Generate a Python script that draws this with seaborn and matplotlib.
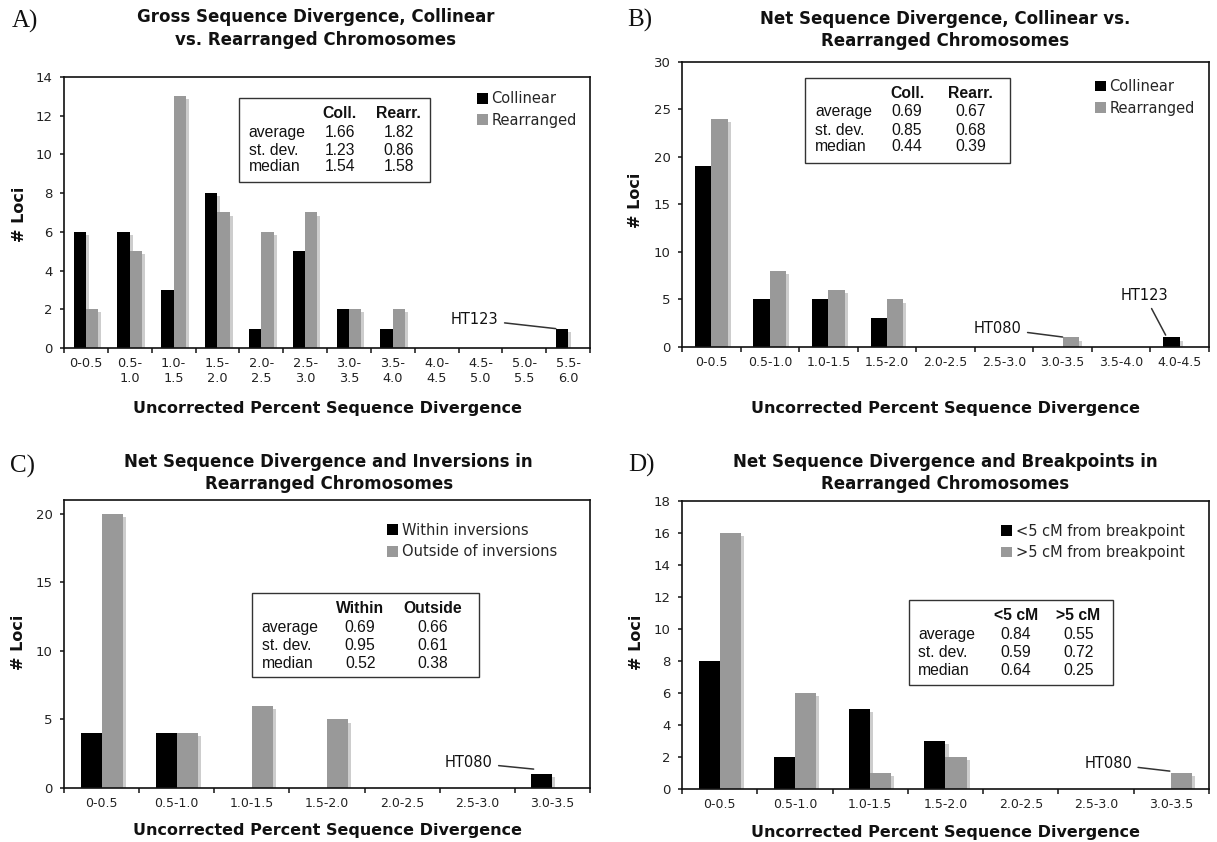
import numpy as np
import pandas as pd
import matplotlib
matplotlib.use("Agg")
import matplotlib.pyplot as plt
import seaborn as sns
from matplotlib import patheffects as pe
from matplotlib.patches import Rectangle, Patch

# ---------------- data ----------------
A_cats = ["0-0.5", "0.5-1.0", "1.0-1.5", "1.5-2.0", "2.0-2.5", "2.5-3.0",
          "3.0-3.5", "3.5-4.0", "4.0-4.5", "4.5-5.0", "5.0-5.5", "5.5-6.0"]
A_ticklabels = ["0-0.5", "0.5-\n1.0", "1.0-\n1.5", "1.5-\n2.0", "2.0-\n2.5", "2.5-\n3.0",
                "3.0-\n3.5", "3.5-\n4.0", "4.0-\n4.5", "4.5-\n5.0", "5.0-\n5.5", "5.5-\n6.0"]
A_series = ["Collinear", "Rearranged"]
A_collinear = [6, 6, 3, 8, 1, 5, 2, 1, 0, 0, 0, 1]
A_rearranged = [2, 5, 13, 7, 6, 7, 2, 2, 0, 0, 0, 0]
A_stat_cols = ["Coll.", "Rearr."]
A_stats = [[1.66, 1.82], [1.23, 0.86], [1.54, 1.58]]

B_cats = ["0-0.5", "0.5-1.0", "1.0-1.5", "1.5-2.0", "2.0-2.5", "2.5-3.0",
          "3.0-3.5", "3.5-4.0", "4.0-4.5"]
B_series = ["Collinear", "Rearranged"]
B_collinear = [19, 5, 5, 3, 0, 0, 0, 0, 1]
B_rearranged = [24, 8, 6, 5, 0, 0, 1, 0, 0]
B_stat_cols = ["Coll.", "Rearr."]
B_stats = [[0.69, 0.67], [0.85, 0.68], [0.44, 0.39]]

C_cats = ["0-0.5", "0.5-1.0", "1.0-1.5", "1.5-2.0", "2.0-2.5", "2.5-3.0", "3.0-3.5"]
C_series = ["Within inversions", "Outside of inversions"]
C_within = [4, 4, 0, 0, 0, 0, 1]
C_outside = [20, 4, 6, 5, 0, 0, 0]
C_stat_cols = ["Within", "Outside"]
C_stats = [[0.69, 0.66], [0.95, 0.61], [0.52, 0.38]]

D_cats = ["0-0.5", "0.5-1.0", "1.0-1.5", "1.5-2.0", "2.0-2.5", "2.5-3.0", "3.0-3.5"]
D_series = ["<5 cM from breakpoint", ">5 cM from breakpoint"]
D_near = [8, 2, 5, 3, 0, 0, 0]
D_far = [16, 6, 1, 2, 0, 0, 1]
D_stat_cols = ["<5 cM", ">5 cM"]
D_stats = [[0.84, 0.55], [0.59, 0.72], [0.64, 0.25]]

stat_rows = ["average", "st. dev.", "median"]

titles = ["Gross Sequence Divergence, Collinear\nvs. Rearranged Chromosomes",
          "Net Sequence Divergence, Collinear vs.\nRearranged Chromosomes",
          "Net Sequence Divergence and Inversions in\nRearranged Chromosomes",
          "Net Sequence Divergence and Breakpoints in\nRearranged Chromosomes"]
panel_letters = ["A)", "B)", "C)", "D)"]
xlabel_text = "Uncorrected Percent Sequence Divergence"
ylabel_text = "# Loci"

# ---------------- style ----------------
sns.set_style("ticks")
plt.rcParams["font.family"] = ["DejaVu Sans"]

BLACK = "#000000"
GRAY = "#999999"
SHADOW = "#cdcdcd"
WIDTH = 0.56

fig = plt.figure(figsize=(12.17, 8.42), dpi=100)
axA = fig.add_axes([0.0526, 0.5867, 0.4322, 0.3219])
axB = fig.add_axes([0.5604, 0.5879, 0.4330, 0.3385])
axC = fig.add_axes([0.0526, 0.0641, 0.4322, 0.3420])
axD = fig.add_axes([0.5604, 0.0629, 0.4330, 0.3420])


def draw_panel(ax, letter, cats, ticklabels, series, v1, v2, ylim, ystep, xtick_fs,
               stat_cols, stats, box, rows_y, cols_x, leg_xy,
               title, title_xy, letter_xy, xlabel_y, ylabel_xy):
    n = len(cats)
    df = pd.DataFrame({
        "cat": list(cats) * 2,
        "series": [series[0]] * n + [series[1]] * n,
        "count": list(v1) + list(v2),
    })
    sns.barplot(data=df, x="cat", y="count", hue="series", order=cats,
                hue_order=series, palette=[BLACK, GRAY], saturation=1,
                width=WIDTH, gap=0, errorbar=None, linewidth=0,
                legend=False, ax=ax)
    for p in ax.patches:
        p.set_path_effects([pe.SimplePatchShadow(offset=(2.2, -2.2),
                                                 shadow_rgbFace=SHADOW, alpha=1.0),
                            pe.Normal()])
    ax.set_xlim(-0.5, n - 0.5)
    ax.set_ylim(*ylim)
    ax.set_yticks(np.arange(0, ylim[1] + 0.01, ystep))
    ax.set_xticks(np.arange(n + 1) - 0.5)
    ax.set_xticklabels([])
    ax.set_xticks(np.arange(n), minor=True)
    ax.set_xticklabels(ticklabels, minor=True, fontsize=xtick_fs, color="#222222")
    ax.tick_params(axis="x", which="major", length=3.8, width=1.2, direction="out")
    ax.tick_params(axis="x", which="minor", length=0, pad=6.5)
    ax.tick_params(axis="y", length=3.0, width=1.2, direction="out", pad=5,
                   labelsize=9.5, labelcolor="#222222")
    for s in ax.spines.values():
        s.set_visible(True)
        s.set_linewidth(1.2)
        s.set_color("#111111")

    ax.set_xlabel(xlabel_text, fontsize=11.5, fontweight="bold", color="#111111")
    ax.xaxis.label.set_va("center")
    ax.xaxis.set_label_coords(0.5, xlabel_y)
    ax.set_ylabel(ylabel_text, fontsize=11.5, fontweight="bold", color="#111111")
    ax.yaxis.label.set_va("center")
    ax.yaxis.set_label_coords(*ylabel_xy)

    ax.text(title_xy[0], title_xy[1], title, transform=ax.transAxes, ha="center",
            va="center", fontsize=12, fontweight="bold", linespacing=1.3,
            color="#111111")
    ax.text(letter_xy[0], letter_xy[1], letter, transform=ax.transAxes,
            ha="left", va="center", fontsize=18, family="Liberation Serif",
            color="#111111")

    # legend
    handles = [Patch(facecolor=BLACK, edgecolor="none"),
               Patch(facecolor=GRAY, edgecolor="none")]
    ax.legend(handles, series, loc="upper left", bbox_to_anchor=leg_xy,
              frameon=False, borderpad=0, borderaxespad=0, handlelength=0.75,
              handleheight=0.75, handletextpad=0.25, labelspacing=0.45,
              fontsize=10.5)

    # stats box
    ax.add_patch(Rectangle((box[0], box[1]), box[2] - box[0], box[3] - box[1],
                           transform=ax.transAxes, facecolor="white",
                           edgecolor="#333333", linewidth=1.0, zorder=4))
    sfont = dict(transform=ax.transAxes, fontsize=11.3, family="Liberation Sans",
                 va="center", zorder=5, color="#111111")
    for j, c in enumerate(stat_cols):
        ax.text(cols_x[j + 1], rows_y[0], c, ha="center", fontweight="bold", **sfont)
    for i, r in enumerate(stat_rows):
        ax.text(cols_x[0], rows_y[i + 1], r, ha="left", **sfont)
        for j in range(2):
            ax.text(cols_x[j + 1], rows_y[i + 1], f"{stats[i][j]:.2f}",
                    ha="center", **sfont)


draw_panel(axA, panel_letters[0], A_cats, A_ticklabels, A_series, A_collinear, A_rearranged,
           (0, 14), 2, 9.3, A_stat_cols, A_stats,
           box=(0.332, 0.613, 0.695, 0.922), rows_y=(0.866, 0.795, 0.730, 0.668),
           cols_x=(0.351, 0.524, 0.636), leg_xy=(0.785, 0.947),
           title=titles[0], title_xy=(0.479, 1.179), letter_xy=(-0.100, 1.204),
           xlabel_y=-0.225, ylabel_xy=(-0.085, 0.495))
draw_panel(axB, panel_letters[1], B_cats, B_cats, B_series, B_collinear, B_rearranged,
           (0, 30), 5, 9.0, B_stat_cols, B_stats,
           box=(0.233, 0.647, 0.622, 0.944), rows_y=(0.889, 0.825, 0.760, 0.702),
           cols_x=(0.253, 0.427, 0.548), leg_xy=(0.783, 0.940),
           title=titles[1], title_xy=(0.499, 1.113), letter_xy=(-0.104, 1.147),
           xlabel_y=-0.216, ylabel_xy=(-0.089, 0.515))
draw_panel(axC, panel_letters[2], C_cats, C_cats, C_series, C_within, C_outside,
           (0, 21), 5, 9.0, C_stat_cols, C_stats,
           box=(0.357, 0.384, 0.789, 0.676), rows_y=(0.623, 0.559, 0.495, 0.434),
           cols_x=(0.376, 0.563, 0.700), leg_xy=(0.615, 0.921),
           title=titles[2], title_xy=(0.503, 1.094), letter_xy=(-0.103, 1.115),
           xlabel_y=-0.149, ylabel_xy=(-0.087, 0.507))
draw_panel(axD, panel_letters[3], D_cats, D_cats, D_series, D_near, D_far,
           (0, 18), 2, 9.0, D_stat_cols, D_stats,
           box=(0.430, 0.360, 0.817, 0.655), rows_y=(0.603, 0.536, 0.473, 0.412),
           cols_x=(0.448, 0.634, 0.752), leg_xy=(0.606, 0.922),
           title=titles[3], title_xy=(0.500, 1.097), letter_xy=(-0.102, 1.125),
           xlabel_y=-0.151, ylabel_xy=(-0.087, 0.510))

# ---------------- outlier annotations ----------------
HALF = WIDTH / 2
ann = dict(fontsize=10.5, ha="center", va="center", color="#111111",
           arrowprops=dict(arrowstyle="-", lw=1.1, color="#333333",
                           shrinkA=2, shrinkB=0))

iA = A_cats.index("5.5-6.0")
axA.annotate("HT123", xy=(iA - HALF, A_collinear[iA]), xytext=(8.87, 1.47), **ann)

iB1 = B_cats.index("3.0-3.5")
axB.annotate("HT080", xy=(iB1, B_rearranged[iB1] + 0.05), xytext=(4.89, 1.93), **ann)
iB2 = B_cats.index("4.0-4.5")
axB.annotate("HT123", xy=(iB2 - HALF + 0.04, B_collinear[iB2] + 0.25), xytext=(7.40, 5.44), **ann)

iC = C_cats.index("3.0-3.5")
axC.annotate("HT080", xy=(iC - HALF + 0.03, C_within[iC] + 0.38), xytext=(4.885, 1.85), **ann)

iD = D_cats.index("3.0-3.5")
axD.annotate("HT080", xy=(iD - 0.02, D_far[iD] + 0.12), xytext=(5.16, 1.57), **ann)

fig.savefig("out.png", dpi=100)
